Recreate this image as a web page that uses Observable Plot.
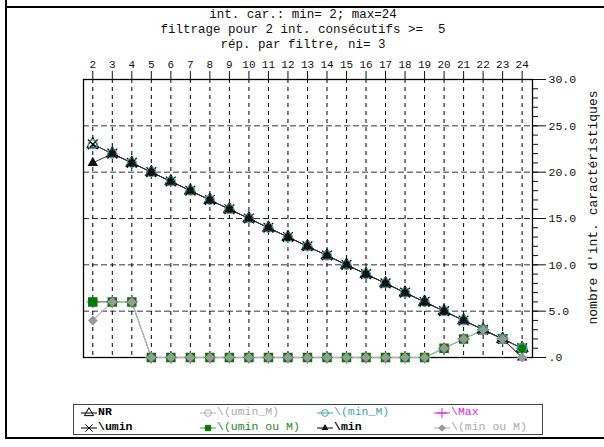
<!DOCTYPE html>
<html><head><meta charset="utf-8">
<script src="https://cdn.jsdelivr.net/npm/d3@7"></script>
<script src="https://cdn.jsdelivr.net/npm/@observablehq/plot@0.6"></script>
<style>
body{margin:0;background:#fff;}
#wrap{position:relative;width:604px;height:447px;overflow:hidden;font-family:"Liberation Mono","DejaVu Sans Mono",monospace;color:#111;}
.fl{position:absolute;background:#000;}
.title{position:absolute;left:0;width:606px;text-align:center;font-size:12.5px;white-space:pre;line-height:14px;}
#chart{position:absolute;left:0;top:0;}
#legend{position:absolute;left:73px;top:404px;width:468px;height:29px;border:1px solid #444;font-size:11.5px;}
.li{position:absolute;white-space:pre;line-height:12px;display:flex;align-items:center;}
.li svg{margin-right:1px;}
</style></head>
<body>
<div id="wrap">
  <div class="fl" style="left:5px;top:0;width:2px;height:439px"></div>
  <div class="fl" style="left:5px;top:6px;width:600px;height:2px"></div>
  <div class="fl" style="left:5px;top:437px;width:600px;height:2px"></div>
  <div id="chart"></div>
  <div id="titles"></div>
  <div id="legend"></div>
</div>
<script>
// ---- data ----
const xs = [2,3,4,5,6,7,8,9,10,11,12,13,14,15,16,17,18,19,20,21,22,23,24];
const NR      = [23,22,21,20,19,18,17,16,15,14,13,12,11,10,9,8,7,6,5,4,3,2,1];
const umin    = [23,22,21,20,19,18,17,16,15,14,13,12,11,10,9,8,7,6,5,4,3,2,1];
const umin_M  = [6,6,6,0,0,0,0,0,0,0,0,0,0,0,0,0,0,0,1,2,3,2,1];
const uminOuM = [6,6,6,0,0,0,0,0,0,0,0,0,0,0,0,0,0,0,1,2,3,2,1];
const min_M   = [23,22,21,20,19,18,17,16,15,14,13,12,11,10,9,8,7,6,5,4,3,2,1];
const minV    = [21,22,21,20,19,18,17,16,15,14,13,12,11,10,9,8,7,6,5,4,3,2,0];
const Max     = [6,6,6,0,0,0,0,0,0,0,0,0,0,0,0,0,0,0,1,2,3,2,1];
const minOuM  = [4,6,6,0,0,0,0,0,0,0,0,0,0,0,0,0,0,0,1,2,3,2,0];
const yMajor = [0,5,10,15,20,25,30];
const yTickLabels = [".0","5.0","10.0","15.0","20.0","25.0","30.0"];
const yMinor = d3.range(0,31);
const yGrid = [5,10,15,20,25];
const titles = ["int. car.: min= 2; max=24","filtrage pour 2 int. consécutifs >=  5","rép. par filtre, ni= 3"];
const yTitle = "nombre d'int. caractéristiques";
const legendNames = ["NR","\\umin","\\(umin_M)","\\(umin ou M)","\\(min_M)","\\min","\\Max","\\(min ou M)"];

const rows = v => xs.map((x,i)=>({x, y:v[i]}));
const F = "Liberation Mono, DejaVu Sans Mono, monospace";

const chart = Plot.plot({
  width:604, height:447,
  marginLeft:83, marginRight:72, marginTop:79, marginBottom:90,
  style:{fontFamily:F, fontSize:"11px", background:"transparent", color:"#111"},
  x:{domain:[1.524,24.53]},
  y:{domain:[0,30]},
  marks:[
    Plot.gridY(yGrid,{stroke:"#333", strokeOpacity:1, strokeDasharray:"6,3"}),
    Plot.gridX(xs,{stroke:"#000", strokeOpacity:1, strokeDasharray:"4,4"}),
    Plot.frame({stroke:"#000", strokeWidth:1.3}),
    Plot.axisX(xs,{anchor:"top", tickSize:9, tickPadding:3, label:null, tickFormat:d=>String(d)}),
    Plot.axisY(yMajor,{anchor:"right", tickSize:13, tickPadding:3, label:null, fontSize:11.5, tickFormat:d=>yTickLabels[yMajor.indexOf(d)]}),
    Plot.axisY(yMinor,{anchor:"right", tickSize:5, label:null, tickFormat:()=>""}),
    // lines
    Plot.line(rows(umin_M),{x:"x",y:"y",stroke:"#bbb",strokeWidth:1}),
    Plot.line(rows(uminOuM),{x:"x",y:"y",stroke:"#2a9a2a",strokeWidth:1}),
    Plot.line(rows(minOuM),{x:"x",y:"y",stroke:"#b8b8b8",strokeWidth:1.2}),
    Plot.line(rows(NR),{x:"x",y:"y",stroke:"#444",strokeWidth:1}),
    Plot.line(rows(umin),{x:"x",y:"y",stroke:"#444",strokeWidth:1}),
    Plot.line(rows(min_M),{x:"x",y:"y",stroke:"#555",strokeWidth:1}),
    Plot.line(rows(minV),{x:"x",y:"y",stroke:"#333",strokeWidth:1}),
    // markers
    Plot.dot(rows(NR),{x:"x",y:"y",symbol:"triangle",r:4.5,stroke:"#000",strokeWidth:1}),
    Plot.dot(rows(umin),{x:"x",y:"y",symbol:"times",r:4.5,stroke:"#000",strokeWidth:1.2}),
    Plot.dot(rows(umin_M),{x:"x",y:"y",symbol:"circle",r:4,stroke:"#aaa",strokeWidth:1}),
    Plot.dot(rows(Max),{x:"x",y:"y",symbol:"plus",r:4,stroke:"#e020e0",strokeWidth:1.2}),
    Plot.dot(rows(uminOuM),{x:"x",y:"y",symbol:"square",r:4.5,fill:"#007a00",stroke:"#007a00"}),
    Plot.dot(rows(min_M),{x:"x",y:"y",symbol:"circle",r:4.5,stroke:"#40a8a8",strokeWidth:1.2}),
    Plot.dot(rows(minV),{x:"x",y:"y",symbol:"triangle2",r:5,fill:"#111"}),
    Plot.dot(rows(minOuM),{x:"x",y:"y",symbol:"diamond2",r:4.5,fill:"#999"}),
    Plot.text([yTitle],{frameAnchor:"right", dx:60, dy:-11, rotate:-90, textAnchor:"middle", lineAnchor:"middle", fontSize:13, fill:"#111"})
  ]
});
document.getElementById("chart").appendChild(chart);

// titles
const tdiv = document.getElementById("titles");
titles.forEach((t,i)=>{
  const d = document.createElement("div");
  d.className="title"; d.textContent=t; d.style.top=(8+i*15)+"px";
  tdiv.appendChild(d);
});

// legend
const legendStyles = [
  {sym:d3.symbolTriangle, fill:"none", stroke:"#000", line:"#000", color:"#000", bold:true},
  {sym:d3.symbolTimes, fill:"none", stroke:"#000", line:"#000", color:"#000", bold:true},
  {sym:d3.symbolCircle, fill:"none", stroke:"#aaa", line:"#bbb", color:"#aaa"},
  {sym:d3.symbolSquare2, fill:"#007a00", stroke:"#007a00", line:"#2a9a2a", color:"#1a8a1a"},
  {sym:d3.symbolCircle, fill:"none", stroke:"#40a8a8", line:"#40a8a8", color:"#40a8a8"},
  {sym:d3.symbolTriangle2, fill:"#111", stroke:"none", line:"#000", color:"#000", bold:true},
  {sym:d3.symbolPlus, fill:"none", stroke:"#e020e0", line:"#e020e0", color:"#e020e0"},
  {sym:d3.symbolDiamond2, fill:"#999", stroke:"none", line:"#aaa", color:"#aaa"}
];
const colX = [7,126,243,360];
const rowY = [1,16];
const lg = document.getElementById("legend");
legendNames.forEach((name,i)=>{
  const s = legendStyles[i];
  const col = Math.floor(i/2), row = i%2;
  const item = document.createElement("div");
  item.className="li";
  item.style.left=colX[col]+"px"; item.style.top=rowY[row]+"px";
  const svg = d3.create("svg").attr("width",16).attr("height",12);
  svg.append("line").attr("x1",0).attr("x2",16).attr("y1",7).attr("y2",7).attr("stroke",s.line);
  svg.append("path").attr("transform","translate(8,7)")
    .attr("d",d3.symbol(s.sym,36)()).attr("fill",s.fill).attr("stroke",s.stroke);
  item.appendChild(svg.node());
  const sp = document.createElement("span");
  sp.textContent=name; sp.style.color=s.color;
  if(s.bold) sp.style.fontWeight="bold";
  item.appendChild(sp);
  lg.appendChild(item);
});
</script>
</body></html>
